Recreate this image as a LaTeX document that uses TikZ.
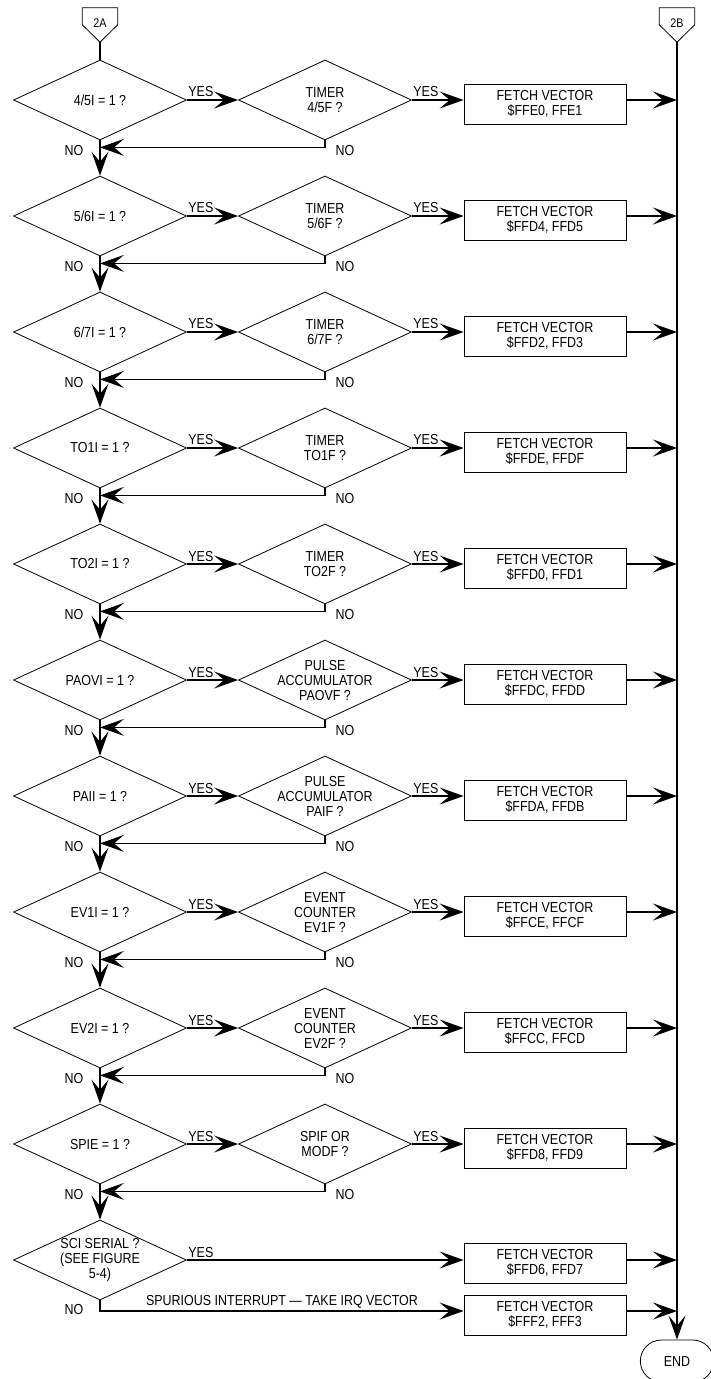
\documentclass[tikz,border=0pt]{standalone}
\usepackage{fontspec}
\setmainfont{Liberation Sans}[FakeStretch=0.86]
\usetikzlibrary{shapes.geometric}
\usetikzlibrary{shapes.misc}
\usetikzlibrary{arrows.meta}
\usetikzlibrary{calc}
\usetikzlibrary{positioning}

\tikzset{
	decision/.style={draw, diamond, minimum width=173pt, minimum height=80pt, inner sep=0pt, line width=0.8pt},
	vecbox/.style={draw, rectangle, minimum width=162pt, minimum height=40pt, inner sep=0pt, align=center, line width=0.8pt},
	qtext/.style={align=center, inner sep=0pt},
	flow/.style={line width=1.1pt, -{Stealth[length=24pt, width=17pt, inset=10pt]}},
	plain/.style={line width=1.1pt},
}

\begin{document}
\begin{tikzpicture}[x=1pt, y=-1pt, font=\fontsize{14.5}{15}\selectfont]
				\useasboundingbox (0,0) rectangle (711,1379);
				
				% off-page connectors
				\node[inner sep=0pt, minimum width=35pt, minimum height=34pt] (c2a) at (100,25) {};
				\draw[line width=0.8pt] (c2a.north west) -- (c2a.north east) -- ++(0,17) -- (c2a.south) -- ($(c2a.north west)+(0,17)$) -- cycle;
				\node[font=\fontsize{12.5}{13}\selectfont] (c2at) at (100,23) {2A};
				\node[inner sep=0pt, minimum width=35pt, minimum height=34pt] (c2b) at (677,25) {};
				\draw[line width=0.8pt] (c2b.north west) -- (c2b.north east) -- ++(0,17) -- (c2b.south) -- ($(c2b.north west)+(0,17)$) -- cycle;
				\node[font=\fontsize{12.5}{13}\selectfont] (c2bt) at (677,23) {2B};
				
				% questions
				\node[decision] (q1) at (100,100) {};
				\node[qtext] (q1t) at (q1) {4/5I = 1 ?};
				\node[decision] (t1) at (325,100) {};
				\node[qtext] (t1t) at (t1) {TIMER\\4/5F ?};
				\node[vecbox] (v1) at (545,104) {FETCH VECTOR\\\$FFE0, FFE1};
				
				\node[decision] (q2) at (100,216) {};
				\node[qtext] (q2t) at (q2) {5/6I = 1 ?};
				\node[decision] (t2) at (325,216) {};
				\node[qtext] (t2t) at (t2) {TIMER\\5/6F ?};
				\node[vecbox] (v2) at (545,220) {FETCH VECTOR\\\$FFD4, FFD5};
				
				\node[decision] (q3) at (100,332) {};
				\node[qtext] (q3t) at (q3) {6/7I = 1 ?};
				\node[decision] (t3) at (325,332) {};
				\node[qtext] (t3t) at (t3) {TIMER\\6/7F ?};
				\node[vecbox] (v3) at (545,336) {FETCH VECTOR\\\$FFD2, FFD3};
				
				\node[decision] (q4) at (100,448) {};
				\node[qtext] (q4t) at (q4) {TO1I = 1 ?};
				\node[decision] (t4) at (325,448) {};
				\node[qtext] (t4t) at (t4) {TIMER\\TO1F ?};
				\node[vecbox] (v4) at (545,452) {FETCH VECTOR\\\$FFDE, FFDF};
				
				\node[decision] (q5) at (100,564) {};
				\node[qtext] (q5t) at (q5) {TO2I = 1 ?};
				\node[decision] (t5) at (325,564) {};
				\node[qtext] (t5t) at (t5) {TIMER\\TO2F ?};
				\node[vecbox] (v5) at (545,568) {FETCH VECTOR\\\$FFD0, FFD1};
				
				\node[decision] (q6) at (100,680) {};
				\node[qtext] (q6t) at (q6) {PAOVI = 1 ?};
				\node[decision] (t6) at (325,680) {};
				\node[qtext] (t6t) at (t6) {PULSE\\ACCUMULATOR\\PAOVF ?};
				\node[vecbox] (v6) at (545,684) {FETCH VECTOR\\\$FFDC, FFDD};
				
				\node[decision] (q7) at (100,796) {};
				\node[qtext] (q7t) at (q7) {PAII = 1 ?};
				\node[decision] (t7) at (325,796) {};
				\node[qtext] (t7t) at (t7) {PULSE\\ACCUMULATOR\\PAIF ?};
				\node[vecbox] (v7) at (545,800) {FETCH VECTOR\\\$FFDA, FFDB};
				
				\node[decision] (q8) at (100,912) {};
				\node[qtext] (q8t) at (q8) {EV1I = 1 ?};
				\node[decision] (t8) at (325,912) {};
				\node[qtext] (t8t) at (t8) {EVENT\\COUNTER\\EV1F ?};
				\node[vecbox] (v8) at (545,916) {FETCH VECTOR\\\$FFCE, FFCF};
				
				\node[decision] (q9) at (100,1028) {};
				\node[qtext] (q9t) at (q9) {EV2I = 1 ?};
				\node[decision] (t9) at (325,1028) {};
				\node[qtext] (t9t) at (t9) {EVENT\\COUNTER\\EV2F ?};
				\node[vecbox] (v9) at (545,1032) {FETCH VECTOR\\\$FFCC, FFCD};
				
				\node[decision] (q10) at (100,1144) {};
				\node[qtext] (q10t) at (q10) {SPIE = 1 ?};
				\node[decision] (t10) at (325,1144) {};
				\node[qtext] (t10t) at (t10) {SPIF OR\\MODF ?};
				\node[vecbox] (v10) at (545,1148) {FETCH VECTOR\\\$FFD8, FFD9};
				
				\node[decision] (q11) at (100,1260) {};
				\node[qtext] (q11t) at (q11) {SCI SERIAL ?\\(SEE FIGURE\\5-4)};
				\node[vecbox] (v11) at (545,1263) {FETCH VECTOR\\\$FFD6, FFD7};
				\node[vecbox] (v12) at (545,1315) {FETCH VECTOR\\\$FFF2, FFF3};
				
				\node[draw, rounded rectangle, minimum width=80pt, minimum height=42pt, line width=0.8pt] (end) at (677,1361) {END};
				
				% connectors
				\draw[plain] (c2a.south) -- (q1.north);
				\draw[flow] (c2b.south) -- (end.north);
				\foreach \i in {1,...,10} {
					\pgfmathtruncatemacro{\j}{\i+1}
					\draw[flow] (q\i.east) -- (t\i.west);
					\draw[flow] (t\i.east) -- (t\i.east -| v\i.west);
					\draw[flow] (t\i.east -| v\i.east) -- (t\i.east -| c2b.south);
					\draw[flow] (t\i.south) |- ($(q\i.south)+(0,7)$);
					\draw[flow] (q\i.south) -- (q\j.north);
					\node (yq\i) at ($(q\i.east)+(14,-8)$) {YES};
					\node (yt\i) at ($(t\i.east)+(14,-8)$) {YES};
					\node (nq\i) at ($(q\i.south)+(-26,10)$) {NO};
					\node (nt\i) at ($(t\i.south)+(20,10)$) {NO};
				}
				
				\coordinate (s11) at (100,1311);
				\draw[flow] (q11.east) -- (q11.east -| v11.west);
				\draw[flow] (q11.east -| v11.east) -- (q11.east -| c2b.south);
				\draw[flow] (q11.south) |- (s11 -| v12.west);
				\draw[flow] (s11 -| v12.east) -- (s11 -| c2b.south);
				\node (yq11) at ($(q11.east)+(14,-8)$) {YES};
				\node (nq11) at ($(q11.south)+(-26,9)$) {NO};
				\node (spur) at (282,1302) {SPURIOUS INTERRUPT — TAKE IRQ VECTOR};
\end{tikzpicture}
\end{document}
